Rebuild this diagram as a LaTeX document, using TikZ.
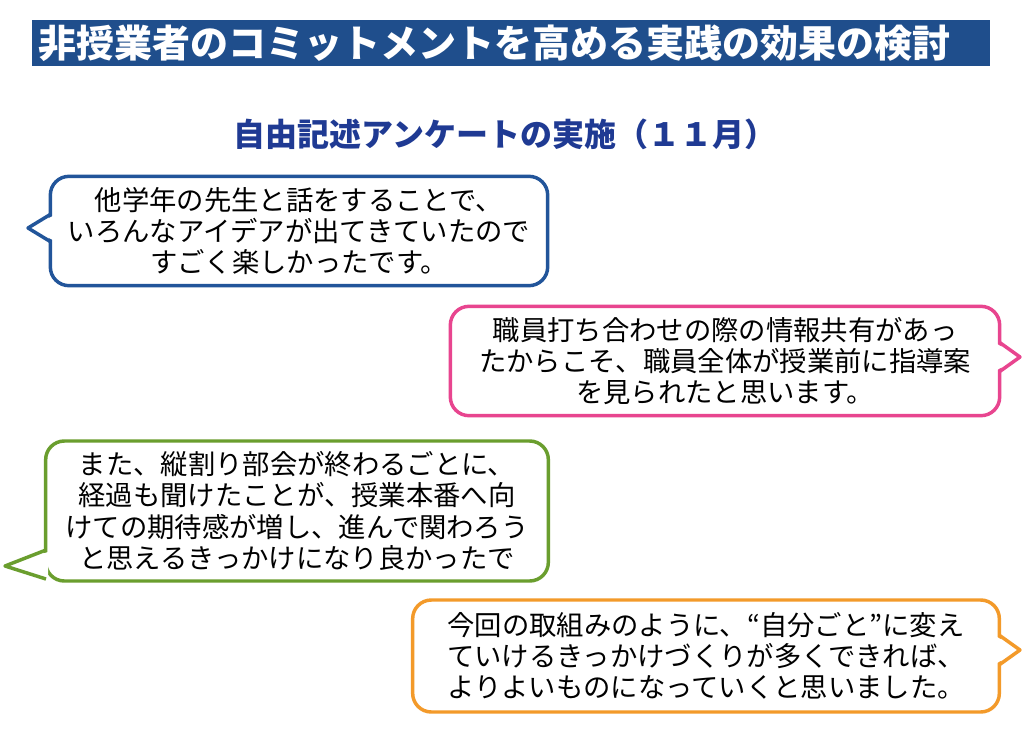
\documentclass[tikz,border=0pt]{standalone}
\usepackage{fontspec}
\setmainfont{Noto Sans CJK JP}
\definecolor{titleblue}{HTML}{1F4E8C}
\definecolor{subblue}{HTML}{1F3A93}
\definecolor{bblue}{HTML}{22559A}
\definecolor{bpink}{HTML}{E8458F}
\definecolor{bgreen}{HTML}{6A9E2E}
\definecolor{borange}{HTML}{F39A2A}
\begin{document}
\begin{tikzpicture}[x=0.75pt,y=-0.75pt]
  \tikzstyle{bubble}=[draw, line width=2.6pt, rounded corners=14pt, fill=white, align=center, font=\fontsize{20.5}{23.5}\selectfont, inner sep=0pt]
  \tikzstyle{tail}=[line width=2.6pt, line join=round]

  \useasboundingbox (0,0) rectangle (1024,735);
  \fill[white] (0,0) rectangle (1024,735);

  \node[fill=titleblue, minimum width=718.5pt, minimum height=34.5pt, inner sep=0pt] (title) at (511,43) {};
  \node[text=white, font=\fontsize{28.5}{32}\selectfont\bfseries, anchor=west] (titletext) at (34,43) {非授業者のコミットメントを高める実践の効果の検討};
  \node[text=subblue, font=\fontsize{24}{28}\selectfont\bfseries] (sub) at (505,134) {自由記述アンケートの実施（１１月）};

  % bubble 1
  \node[bubble, draw=bblue, minimum width=373pt, minimum height=82pt] (b1) at (299,231)
    {他学年の先生と話をすることで、\\いろんなアイデアが出てきていたので\\すごく楽しかったです。};
  \coordinate (t1) at (28,228);
  \fill[white] (53,216) -- (t1) -- (53,240) -- cycle;
  \draw[tail, bblue] (51,214) -- (t1) -- (51,242);

  % bubble 2
  \node[bubble, draw=bpink, minimum width=412pt, minimum height=82pt] (b2) at (725,361)
    {職員打ち合わせの際の情報共有があっ\\たからこそ、職員全体が授業前に指導案\\を見られたと思います。};
  \coordinate (t2) at (1020,357);
  \fill[white] (997,344) -- (t2) -- (997,370) -- cycle;
  \draw[tail, bpink] (999,342) -- (t2) -- (999,372);

  % bubble 3
  \node[bubble, draw=bgreen, minimum width=377pt, minimum height=105pt] (b3) at (297,511)
    {また、縦割り部会が終わるごとに、\\経過も聞けたことが、授業本番へ向\\けての期待感が増し、進んで関わろう\\と思えるきっかけになり良かったで};
  \coordinate (t3) at (5,566);
  \fill[white] (48,552) -- (t3) -- (48,577) -- cycle;
  \draw[tail, bgreen] (46,550) -- (t3) -- (46,579);

  % bubble 4
  \node[bubble, draw=borange, minimum width=440pt, minimum height=84pt] (b4) at (706,656)
    {今回の取組みのように、“自分ごと”に変え\\ていけるきっかけづくりが多くできれば、\\よりよいものになっていくと思いました。};
  \coordinate (t4) at (1020,650);
  \fill[white] (997,637) -- (t4) -- (997,663) -- cycle;
  \draw[tail, borange] (999,635) -- (t4) -- (999,665);
\end{tikzpicture}
\end{document}
